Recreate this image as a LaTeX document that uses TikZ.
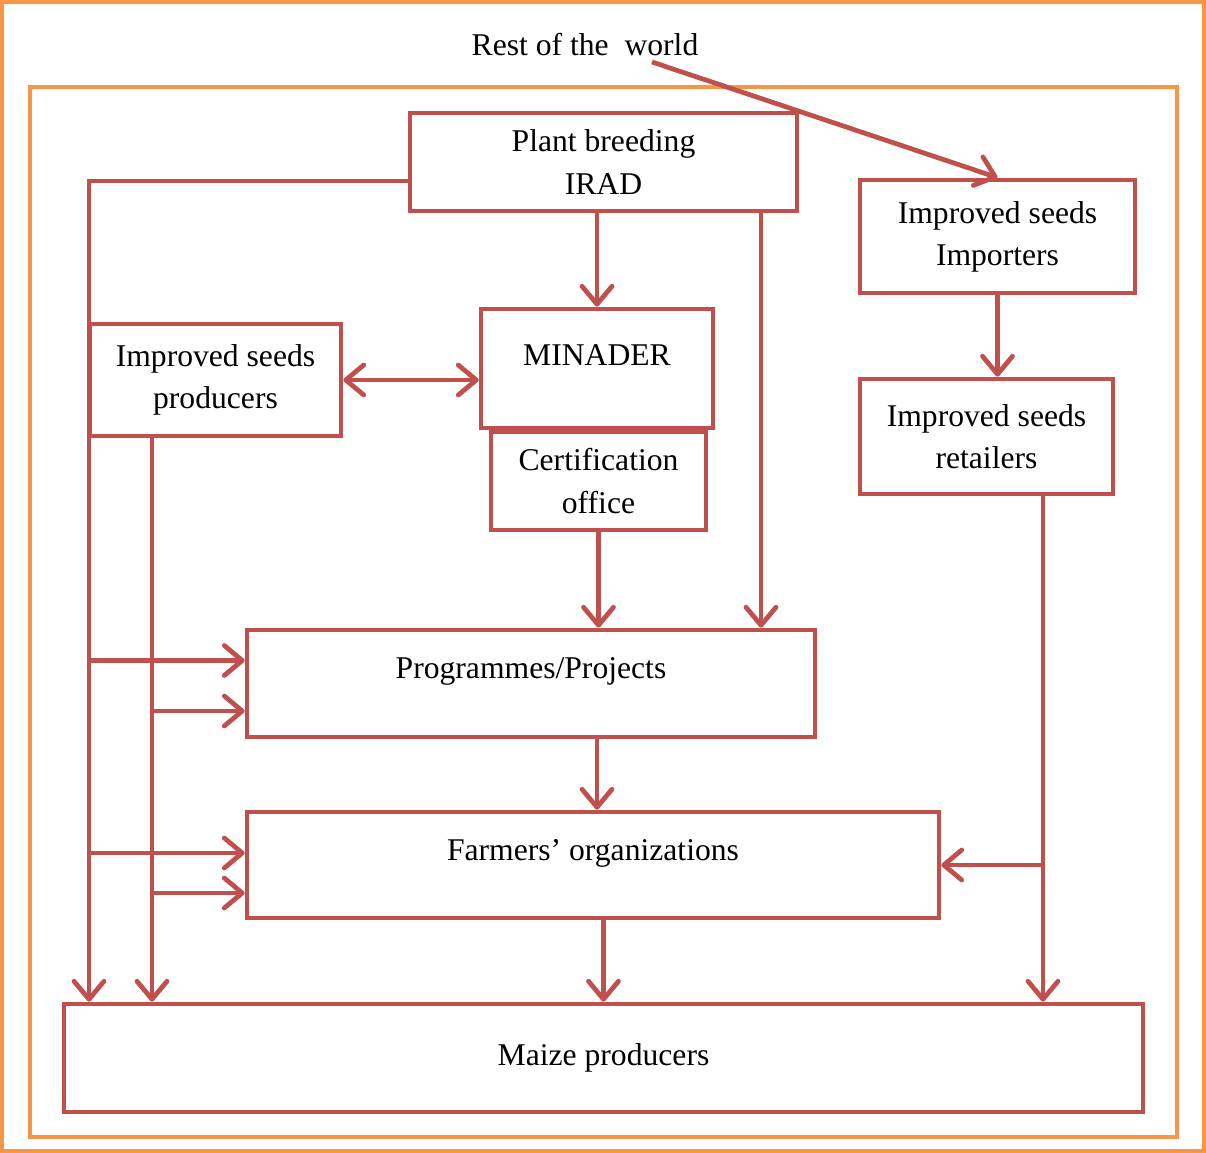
\documentclass[tikz,border=0pt]{standalone}
\usepackage{fontspec}
\setmainfont{Liberation Serif}
\usetikzlibrary{arrows.meta}
\definecolor{boxred}{HTML}{C0504D}
\definecolor{frameorange}{HTML}{F79646}

\begin{document}
\begin{tikzpicture}[font=\fontsize{9}{12}\selectfont,
  >={Straight Barb[length=1.8mm,width=3mm,round]},
  box/.style={draw=boxred,line width=1.35pt,align=center,inner sep=2pt},
  arr/.style={draw=boxred,line width=1.35pt,->},
  frame/.style={draw=frameorange,line width=0.9pt}]
  \useasboundingbox (0,0) rectangle (12.06,-11.53);
  \draw[frame] (0.02,-0.02) rectangle (12.04,-11.51);
  \draw[frame] (0.30,-0.87) rectangle (11.77,-11.37);

  \node (world) at (5.85,-0.45) {Rest of the~ world};
  \node[box,minimum width=3.87cm,minimum height=0.98cm,text depth=0cm] (irad) at (6.035,-1.62) {Plant breeding\\IRAD};
  \node[box,minimum width=2.75cm,minimum height=1.13cm] (importers) at (9.975,-2.365) {Improved seeds\\Importers};
  \node[box,minimum width=2.32cm,minimum height=1.19cm,text depth=0.26cm] (minader) at (5.97,-3.685) {MINADER};
  \node[box,minimum width=2.15cm,minimum height=0.98cm] (cert) at (5.985,-4.81) {Certification\\office};
  \node[box,minimum width=2.51cm,minimum height=1.12cm] (producers) at (2.155,-3.80) {Improved seeds\\producers};
  \node[box,minimum width=2.53cm,minimum height=1.15cm] (retailers) at (9.865,-4.365) {Improved seeds\\retailers};
  \node[box,minimum width=5.68cm,minimum height=1.07cm,text depth=0.3cm] (progs) at (5.31,-6.835) {Programmes/Projects};
  \node[box,minimum width=6.92cm,minimum height=1.06cm,text depth=0.3cm] (farmers) at (5.93,-8.65) {Farmers’ organizations};
  \node[box,minimum width=10.79cm,minimum height=1.08cm] (maize) at (6.035,-10.58) {Maize producers};

  % rails
  \coordinate (railA) at (0.89,0);
  \coordinate (railB) at (1.52,0);
  \coordinate (railD) at (7.61,0);
  \coordinate (railC) at (10.43,0);
  \coordinate (wtail) at (6.52,-0.62);
  \coordinate (iradleft) at ([yshift=-1.9mm]irad.west);

  \draw[arr] (wtail) -- (importers.north);
  \draw[arr] (iradleft) -| (maize.north -| railA);
  \draw[arr] (producers.south -| railB) -- (maize.north -| railB);
  \draw[arr] (irad.south -| minader.north) -- (minader.north);
  \draw[arr] (irad.south -| railD) -- (progs.north -| railD);
  \draw[arr,<->] (producers.east) -- (producers.east -| minader.west);
  \draw[arr] (cert.south) -- (cert.south |- progs.north);
  \draw[arr] (progs.south -| minader.south) -- (farmers.north -| minader.south);
  \draw[arr] (farmers.south -| maize.north) -- (maize.north);
  \draw[arr] (importers.south) -- (importers.south |- retailers.north);
  \draw[arr] (retailers.south -| railC) -- (maize.north -| railC);
  \draw[arr] (farmers.east -| railC) -- (farmers.east);

  \foreach \bx/\rail/\dy in {progs/railA/2.3mm, progs/railB/-2.75mm, farmers/railA/1.2mm, farmers/railB/-2.8mm} {
    \coordinate (tip) at ([yshift=\dy]\bx.west);
    \draw[arr] (tip -| \rail) -- (tip);
  }
\end{tikzpicture}
\end{document}
